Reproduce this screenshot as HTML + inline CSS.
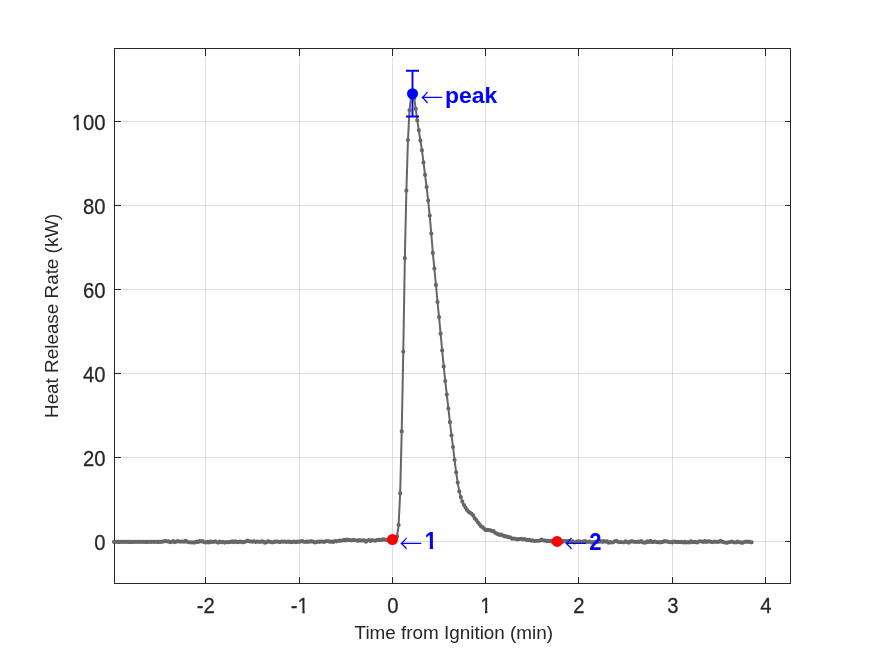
<!DOCTYPE html><html><head><meta charset="utf-8"><title>Heat Release Rate</title><style>html,body{margin:0;padding:0;background:#fff}svg{display:block}</style></head><body><svg width="875" height="656" viewBox="0 0 875 656">
<defs><clipPath id="c1"><rect x="291.09" y="590.52" width="6.45" height="30.72"/><rect x="298.90" y="590.52" width="5.93" height="19.73"/><rect x="302.39" y="610.24" width="2.28" height="4.46"/></clipPath><clipPath id="c2"><rect x="481.52" y="590.52" width="5.93" height="19.73"/><rect x="485.02" y="610.24" width="2.28" height="4.46"/></clipPath><clipPath id="c3"><rect x="73.16" y="107.92" width="5.93" height="19.73"/><rect x="76.65" y="127.64" width="2.28" height="4.46"/><rect x="83.37" y="107.92" width="11.97" height="30.72"/><rect x="94.63" y="107.92" width="11.97" height="30.72"/></clipPath><clipPath id="c4"><rect x="425.66" y="525.06" width="7.72" height="20.34"/><rect x="429.81" y="545.40" width="3.26" height="5.20"/></clipPath></defs>
<rect width="875" height="656" fill="#fff"/>
<path d="M205.5 57V576M299.5 57V576M392.5 57V576M485.5 57V576M578.5 57V576M672.5 57V576M765.5 57V576" stroke="#262626" stroke-opacity="0.15" stroke-width="1" fill="none" shape-rendering="crispEdges"/>
<path d="M122 541.5H784M122 457.5H784M122 373.5H784M122 289.5H784M122 205.5H784M122 121.5H784" stroke="#262626" stroke-opacity="0.15" stroke-width="1" fill="none" shape-rendering="crispEdges"/>
<path d="M114.5 48.5H790.5V583.5H114.5ZM205.5 583.5v-6.5M205.5 48.5v7.5M299.5 583.5v-6.5M299.5 48.5v7.5M392.5 583.5v-6.5M392.5 48.5v7.5M485.5 583.5v-6.5M485.5 48.5v7.5M578.5 583.5v-6.5M578.5 48.5v7.5M672.5 583.5v-6.5M672.5 48.5v7.5M765.5 583.5v-6.5M765.5 48.5v7.5M114.5 541.5h6.5M790.5 541.5h-5.5M114.5 457.5h6.5M790.5 457.5h-5.5M114.5 373.5h6.5M790.5 373.5h-5.5M114.5 289.5h6.5M790.5 289.5h-5.5M114.5 205.5h6.5M790.5 205.5h-5.5M114.5 121.5h6.5M790.5 121.5h-5.5" stroke="#262626" stroke-width="1" fill="none" shape-rendering="crispEdges"/>
<polyline points="114.06,541.90 115.61,541.84 117.16,541.88 118.72,541.88 120.27,541.89 121.83,541.87 123.38,541.89 124.94,541.87 126.50,541.85 128.05,541.91 129.60,541.92 131.16,541.94 132.71,541.89 134.27,541.87 135.82,541.86 137.38,541.84 138.93,541.90 140.49,541.85 142.04,541.84 143.60,541.87 145.16,541.92 146.71,541.88 148.26,541.84 149.82,541.85 151.38,541.89 152.93,541.86 154.48,541.85 156.04,541.86 157.59,541.89 159.15,541.92 160.70,541.83 162.26,541.53 163.81,541.42 165.37,540.82 166.92,541.36 168.48,541.45 170.03,542.26 171.59,541.78 173.14,541.22 174.70,542.04 176.25,541.67 177.81,541.12 179.36,541.52 180.92,541.56 182.47,541.48 184.03,541.74 185.58,540.93 187.14,541.69 188.69,542.27 190.25,542.27 191.80,542.36 193.36,542.39 194.91,542.44 196.47,541.48 198.02,542.06 199.58,541.10 201.13,541.45 202.69,541.08 204.24,542.23 205.80,542.40 207.35,541.87 208.91,542.51 210.46,541.63 212.02,541.87 213.57,541.85 215.13,541.42 216.68,542.03 218.24,542.58 219.79,541.52 221.35,542.14 222.90,541.86 224.46,542.54 226.01,542.10 227.57,542.13 229.12,542.11 230.68,541.89 232.23,541.31 233.79,542.26 235.34,541.32 236.90,541.88 238.45,542.03 240.01,541.50 241.56,541.88 243.12,542.28 244.67,541.80 246.23,541.33 247.78,540.56 249.34,541.28 250.89,541.50 252.45,541.53 254.00,541.40 255.56,541.89 257.12,541.57 258.67,541.75 260.23,542.02 261.78,541.46 263.33,541.71 264.89,542.67 266.44,542.16 268.00,541.29 269.55,541.72 271.11,542.04 272.66,542.29 274.22,541.86 275.77,541.53 277.33,541.48 278.88,542.01 280.44,541.89 282.00,541.56 283.55,541.65 285.10,541.61 286.66,542.00 288.21,541.52 289.77,541.95 291.32,542.13 292.88,541.94 294.44,541.48 295.99,542.23 297.54,541.54 299.10,541.86 300.65,541.38 302.21,541.01 303.76,541.77 305.32,541.85 306.88,541.72 308.43,541.81 309.99,541.45 311.54,541.40 313.09,541.70 314.65,542.51 316.20,542.10 317.76,541.56 319.31,541.90 320.87,541.52 322.42,541.54 323.98,542.02 325.53,541.46 327.09,540.98 328.64,541.28 330.20,541.71 331.75,541.71 333.31,541.88 334.87,541.00 336.42,541.29 337.97,541.01 339.53,540.60 341.08,540.77 342.64,540.46 344.19,539.88 345.75,540.43 347.30,539.56 348.86,540.05 350.41,540.15 351.97,540.33 353.52,539.97 355.08,540.26 356.63,540.35 358.19,540.79 359.75,540.21 361.30,540.54 362.85,540.46 364.41,540.25 365.96,541.69 367.52,540.62 369.07,540.00 370.63,540.95 372.19,540.06 373.74,540.50 375.29,540.64 376.85,540.00 378.40,539.97 379.96,539.92 381.51,539.99 383.07,539.38 384.62,539.49 386.18,539.95 387.73,540.35 389.29,540.09 390.84,540.30 392.40,539.40 393.95,539.20 395.51,538.60 397.06,536.60 398.62,525.00 400.17,493.40 401.73,431.40 403.28,351.70 404.84,258.20 406.39,190.50 407.95,140.10 409.50,110.30 411.06,97.40 412.61,93.90 414.17,98.20 415.72,108.90 417.28,120.30 418.83,130.30 420.39,140.30 421.94,150.30 423.50,162.40 425.05,174.90 426.61,187.10 428.16,200.60 429.72,215.70 431.27,233.50 432.83,252.90 434.38,268.60 435.94,284.90 437.50,302.00 439.05,317.10 440.60,333.70 442.16,350.40 443.71,366.40 445.27,381.10 446.82,394.60 448.38,408.50 449.93,422.20 451.49,435.40 453.04,447.10 454.60,460.00 456.15,472.30 457.71,482.60 459.26,491.40 460.82,497.10 462.38,501.70 463.93,505.00 465.48,507.60 467.04,510.00 468.59,511.79 470.15,512.89 471.70,513.87 473.26,515.70 474.81,518.44 476.37,520.10 477.92,522.26 479.48,524.31 481.03,526.32 482.59,527.19 484.14,528.66 485.70,530.08 487.25,529.97 488.81,530.03 490.36,530.34 491.92,530.84 493.47,531.12 495.03,532.63 496.58,533.61 498.14,534.17 499.69,534.96 501.25,534.61 502.80,535.50 504.36,536.22 505.91,536.36 507.47,536.88 509.02,537.17 510.58,537.61 512.13,538.70 513.69,538.58 515.25,538.73 516.80,539.32 518.36,539.08 519.91,539.02 521.46,538.82 523.02,539.38 524.57,539.07 526.13,539.85 527.68,540.05 529.24,539.97 530.79,540.59 532.35,540.39 533.90,540.99 535.46,540.82 537.01,540.85 538.57,540.75 540.12,540.58 541.68,539.58 543.24,540.33 544.79,540.61 546.35,540.95 547.90,540.96 549.45,541.24 551.01,540.86 552.56,541.97 554.12,542.25 555.67,541.34 557.23,541.40 558.78,541.59 560.34,542.05 561.89,542.25 563.45,541.07 565.00,541.20 566.56,541.07 568.12,541.04 569.67,540.92 571.22,541.68 572.78,541.27 574.34,542.28 575.89,542.09 577.44,541.30 579.00,541.26 580.55,541.51 582.11,542.26 583.66,541.42 585.22,541.15 586.77,541.73 588.33,541.93 589.88,541.63 591.44,542.47 593.00,542.02 594.55,542.01 596.11,541.54 597.66,541.83 599.21,541.74 600.77,540.99 602.32,541.86 603.88,541.19 605.43,541.77 606.99,541.39 608.54,542.67 610.10,542.15 611.65,542.30 613.21,542.26 614.76,541.33 616.32,540.93 617.88,541.73 619.43,542.26 620.98,542.01 622.54,542.27 624.10,542.26 625.65,541.36 627.20,542.05 628.76,542.70 630.31,541.69 631.87,541.07 633.42,541.73 634.98,541.74 636.53,542.04 638.09,541.58 639.64,541.84 641.20,541.07 642.75,542.25 644.31,542.65 645.87,542.45 647.42,541.38 648.97,541.89 650.53,540.76 652.09,541.93 653.64,541.88 655.19,541.55 656.75,542.04 658.30,542.04 659.86,542.32 661.41,542.03 662.97,541.96 664.52,541.12 666.08,541.38 667.63,541.72 669.19,542.04 670.74,542.01 672.30,542.51 673.86,541.64 675.41,541.83 676.96,542.03 678.52,541.88 680.08,542.12 681.63,541.80 683.18,542.49 684.74,541.92 686.29,542.39 687.85,542.04 689.40,542.50 690.96,541.47 692.51,542.10 694.07,541.81 695.62,542.08 697.18,542.41 698.73,541.50 700.29,541.35 701.85,541.52 703.40,541.96 704.95,541.22 706.51,541.88 708.06,541.41 709.62,541.45 711.17,541.79 712.73,542.09 714.28,541.72 715.84,541.75 717.39,541.93 718.95,541.76 720.50,540.87 722.06,541.70 723.62,542.04 725.17,542.50 726.72,542.87 728.28,542.33 729.84,542.00 731.39,541.60 732.94,542.01 734.50,542.35 736.05,542.49 737.61,541.69 739.16,542.08 740.72,542.40 742.27,542.78 743.83,542.14 745.38,541.76 746.94,541.68 748.49,541.80 750.05,541.75 751.61,542.34" fill="none" stroke="#666666" stroke-width="2" stroke-linejoin="round"/>
<path d="M114.06 541.90h0M115.61 541.84h0M117.16 541.88h0M118.72 541.88h0M120.27 541.89h0M121.83 541.87h0M123.38 541.89h0M124.94 541.87h0M126.50 541.85h0M128.05 541.91h0M129.60 541.92h0M131.16 541.94h0M132.71 541.89h0M134.27 541.87h0M135.82 541.86h0M137.38 541.84h0M138.93 541.90h0M140.49 541.85h0M142.04 541.84h0M143.60 541.87h0M145.16 541.92h0M146.71 541.88h0M148.26 541.84h0M149.82 541.85h0M151.38 541.89h0M152.93 541.86h0M154.48 541.85h0M156.04 541.86h0M157.59 541.89h0M159.15 541.92h0M160.70 541.83h0M162.26 541.53h0M163.81 541.42h0M165.37 540.82h0M166.92 541.36h0M168.48 541.45h0M170.03 542.26h0M171.59 541.78h0M173.14 541.22h0M174.70 542.04h0M176.25 541.67h0M177.81 541.12h0M179.36 541.52h0M180.92 541.56h0M182.47 541.48h0M184.03 541.74h0M185.58 540.93h0M187.14 541.69h0M188.69 542.27h0M190.25 542.27h0M191.80 542.36h0M193.36 542.39h0M194.91 542.44h0M196.47 541.48h0M198.02 542.06h0M199.58 541.10h0M201.13 541.45h0M202.69 541.08h0M204.24 542.23h0M205.80 542.40h0M207.35 541.87h0M208.91 542.51h0M210.46 541.63h0M212.02 541.87h0M213.57 541.85h0M215.13 541.42h0M216.68 542.03h0M218.24 542.58h0M219.79 541.52h0M221.35 542.14h0M222.90 541.86h0M224.46 542.54h0M226.01 542.10h0M227.57 542.13h0M229.12 542.11h0M230.68 541.89h0M232.23 541.31h0M233.79 542.26h0M235.34 541.32h0M236.90 541.88h0M238.45 542.03h0M240.01 541.50h0M241.56 541.88h0M243.12 542.28h0M244.67 541.80h0M246.23 541.33h0M247.78 540.56h0M249.34 541.28h0M250.89 541.50h0M252.45 541.53h0M254.00 541.40h0M255.56 541.89h0M257.12 541.57h0M258.67 541.75h0M260.23 542.02h0M261.78 541.46h0M263.33 541.71h0M264.89 542.67h0M266.44 542.16h0M268.00 541.29h0M269.55 541.72h0M271.11 542.04h0M272.66 542.29h0M274.22 541.86h0M275.77 541.53h0M277.33 541.48h0M278.88 542.01h0M280.44 541.89h0M282.00 541.56h0M283.55 541.65h0M285.10 541.61h0M286.66 542.00h0M288.21 541.52h0M289.77 541.95h0M291.32 542.13h0M292.88 541.94h0M294.44 541.48h0M295.99 542.23h0M297.54 541.54h0M299.10 541.86h0M300.65 541.38h0M302.21 541.01h0M303.76 541.77h0M305.32 541.85h0M306.88 541.72h0M308.43 541.81h0M309.99 541.45h0M311.54 541.40h0M313.09 541.70h0M314.65 542.51h0M316.20 542.10h0M317.76 541.56h0M319.31 541.90h0M320.87 541.52h0M322.42 541.54h0M323.98 542.02h0M325.53 541.46h0M327.09 540.98h0M328.64 541.28h0M330.20 541.71h0M331.75 541.71h0M333.31 541.88h0M334.87 541.00h0M336.42 541.29h0M337.97 541.01h0M339.53 540.60h0M341.08 540.77h0M342.64 540.46h0M344.19 539.88h0M345.75 540.43h0M347.30 539.56h0M348.86 540.05h0M350.41 540.15h0M351.97 540.33h0M353.52 539.97h0M355.08 540.26h0M356.63 540.35h0M358.19 540.79h0M359.75 540.21h0M361.30 540.54h0M362.85 540.46h0M364.41 540.25h0M365.96 541.69h0M367.52 540.62h0M369.07 540.00h0M370.63 540.95h0M372.19 540.06h0M373.74 540.50h0M375.29 540.64h0M376.85 540.00h0M378.40 539.97h0M379.96 539.92h0M381.51 539.99h0M383.07 539.38h0M384.62 539.49h0M386.18 539.95h0M387.73 540.35h0M389.29 540.09h0M390.84 540.30h0M392.40 539.40h0M393.95 539.20h0M395.51 538.60h0M397.06 536.60h0M398.62 525.00h0M400.17 493.40h0M401.73 431.40h0M403.28 351.70h0M404.84 258.20h0M406.39 190.50h0M407.95 140.10h0M409.50 110.30h0M411.06 97.40h0M412.61 93.90h0M414.17 98.20h0M415.72 108.90h0M417.28 120.30h0M418.83 130.30h0M420.39 140.30h0M421.94 150.30h0M423.50 162.40h0M425.05 174.90h0M426.61 187.10h0M428.16 200.60h0M429.72 215.70h0M431.27 233.50h0M432.83 252.90h0M434.38 268.60h0M435.94 284.90h0M437.50 302.00h0M439.05 317.10h0M440.60 333.70h0M442.16 350.40h0M443.71 366.40h0M445.27 381.10h0M446.82 394.60h0M448.38 408.50h0M449.93 422.20h0M451.49 435.40h0M453.04 447.10h0M454.60 460.00h0M456.15 472.30h0M457.71 482.60h0M459.26 491.40h0M460.82 497.10h0M462.38 501.70h0M463.93 505.00h0M465.48 507.60h0M467.04 510.00h0M468.59 511.79h0M470.15 512.89h0M471.70 513.87h0M473.26 515.70h0M474.81 518.44h0M476.37 520.10h0M477.92 522.26h0M479.48 524.31h0M481.03 526.32h0M482.59 527.19h0M484.14 528.66h0M485.70 530.08h0M487.25 529.97h0M488.81 530.03h0M490.36 530.34h0M491.92 530.84h0M493.47 531.12h0M495.03 532.63h0M496.58 533.61h0M498.14 534.17h0M499.69 534.96h0M501.25 534.61h0M502.80 535.50h0M504.36 536.22h0M505.91 536.36h0M507.47 536.88h0M509.02 537.17h0M510.58 537.61h0M512.13 538.70h0M513.69 538.58h0M515.25 538.73h0M516.80 539.32h0M518.36 539.08h0M519.91 539.02h0M521.46 538.82h0M523.02 539.38h0M524.57 539.07h0M526.13 539.85h0M527.68 540.05h0M529.24 539.97h0M530.79 540.59h0M532.35 540.39h0M533.90 540.99h0M535.46 540.82h0M537.01 540.85h0M538.57 540.75h0M540.12 540.58h0M541.68 539.58h0M543.24 540.33h0M544.79 540.61h0M546.35 540.95h0M547.90 540.96h0M549.45 541.24h0M551.01 540.86h0M552.56 541.97h0M554.12 542.25h0M555.67 541.34h0M557.23 541.40h0M558.78 541.59h0M560.34 542.05h0M561.89 542.25h0M563.45 541.07h0M565.00 541.20h0M566.56 541.07h0M568.12 541.04h0M569.67 540.92h0M571.22 541.68h0M572.78 541.27h0M574.34 542.28h0M575.89 542.09h0M577.44 541.30h0M579.00 541.26h0M580.55 541.51h0M582.11 542.26h0M583.66 541.42h0M585.22 541.15h0M586.77 541.73h0M588.33 541.93h0M589.88 541.63h0M591.44 542.47h0M593.00 542.02h0M594.55 542.01h0M596.11 541.54h0M597.66 541.83h0M599.21 541.74h0M600.77 540.99h0M602.32 541.86h0M603.88 541.19h0M605.43 541.77h0M606.99 541.39h0M608.54 542.67h0M610.10 542.15h0M611.65 542.30h0M613.21 542.26h0M614.76 541.33h0M616.32 540.93h0M617.88 541.73h0M619.43 542.26h0M620.98 542.01h0M622.54 542.27h0M624.10 542.26h0M625.65 541.36h0M627.20 542.05h0M628.76 542.70h0M630.31 541.69h0M631.87 541.07h0M633.42 541.73h0M634.98 541.74h0M636.53 542.04h0M638.09 541.58h0M639.64 541.84h0M641.20 541.07h0M642.75 542.25h0M644.31 542.65h0M645.87 542.45h0M647.42 541.38h0M648.97 541.89h0M650.53 540.76h0M652.09 541.93h0M653.64 541.88h0M655.19 541.55h0M656.75 542.04h0M658.30 542.04h0M659.86 542.32h0M661.41 542.03h0M662.97 541.96h0M664.52 541.12h0M666.08 541.38h0M667.63 541.72h0M669.19 542.04h0M670.74 542.01h0M672.30 542.51h0M673.86 541.64h0M675.41 541.83h0M676.96 542.03h0M678.52 541.88h0M680.08 542.12h0M681.63 541.80h0M683.18 542.49h0M684.74 541.92h0M686.29 542.39h0M687.85 542.04h0M689.40 542.50h0M690.96 541.47h0M692.51 542.10h0M694.07 541.81h0M695.62 542.08h0M697.18 542.41h0M698.73 541.50h0M700.29 541.35h0M701.85 541.52h0M703.40 541.96h0M704.95 541.22h0M706.51 541.88h0M708.06 541.41h0M709.62 541.45h0M711.17 541.79h0M712.73 542.09h0M714.28 541.72h0M715.84 541.75h0M717.39 541.93h0M718.95 541.76h0M720.50 540.87h0M722.06 541.70h0M723.62 542.04h0M725.17 542.50h0M726.72 542.87h0M728.28 542.33h0M729.84 542.00h0M731.39 541.60h0M732.94 542.01h0M734.50 542.35h0M736.05 542.49h0M737.61 541.69h0M739.16 542.08h0M740.72 542.40h0M742.27 542.78h0M743.83 542.14h0M745.38 541.76h0M746.94 541.68h0M748.49 541.80h0M750.05 541.75h0M751.61 542.34h0" fill="none" stroke="#666666" stroke-width="4.2" stroke-linecap="round"/>
<g font-family="Liberation Sans, Arial, sans-serif">
<text transform="translate(196.79,612.70) scale(0.95,1.04)" stroke="#262626" stroke-width="0.25" font-size="21.33" fill="#262626">-2</text>
<g clip-path="url(#c1)"><text transform="translate(290.79,612.70) scale(0.95,1.04)" stroke="#262626" stroke-width="0.25" font-size="21.33" fill="#262626">-1</text></g>
<text transform="translate(387.17,612.70) scale(0.95,1.04)" stroke="#262626" stroke-width="0.25" font-size="21.33" fill="#262626">0</text>
<g clip-path="url(#c2)"><text transform="translate(480.17,612.70) scale(0.95,1.04)" stroke="#262626" stroke-width="0.25" font-size="21.33" fill="#262626">1</text></g>
<text transform="translate(573.17,612.70) scale(0.95,1.04)" stroke="#262626" stroke-width="0.25" font-size="21.33" fill="#262626">2</text>
<text transform="translate(667.17,612.70) scale(0.95,1.04)" stroke="#262626" stroke-width="0.25" font-size="21.33" fill="#262626">3</text>
<text transform="translate(760.17,612.70) scale(0.95,1.04)" stroke="#262626" stroke-width="0.25" font-size="21.33" fill="#262626">4</text>
<text transform="translate(94.33,550.10) scale(0.95,1.04)" stroke="#262626" stroke-width="0.25" font-size="21.33" fill="#262626">0</text>
<text transform="translate(83.07,466.10) scale(0.95,1.04)" stroke="#262626" stroke-width="0.25" font-size="21.33" fill="#262626">20</text>
<text transform="translate(83.07,382.10) scale(0.95,1.04)" stroke="#262626" stroke-width="0.25" font-size="21.33" fill="#262626">40</text>
<text transform="translate(83.07,298.10) scale(0.95,1.04)" stroke="#262626" stroke-width="0.25" font-size="21.33" fill="#262626">60</text>
<text transform="translate(83.07,214.10) scale(0.95,1.04)" stroke="#262626" stroke-width="0.25" font-size="21.33" fill="#262626">80</text>
<g clip-path="url(#c3)"><text transform="translate(71.80,130.10) scale(0.95,1.04)" stroke="#262626" stroke-width="0.25" font-size="21.33" fill="#262626">100</text></g>
</g>
<g font-family="Liberation Sans, Arial, sans-serif" font-size="18.87" fill="#262626">
<text x="453.8" y="638.9" text-anchor="middle">Time from Ignition (min)</text>
<text transform="translate(58.2,315.8) rotate(-90)" text-anchor="middle">Heat Release Rate (kW)</text>
</g>
<path d="M412.5 70.7V116.5M406 70.7h13M406 116.5h13" stroke="#0000ff" stroke-width="1.9" fill="none"/>
<circle cx="412.5" cy="93.7" r="5.5" fill="#0000ff"/>
<circle cx="392.5" cy="539.5" r="5.5" fill="#ff0000"/>
<circle cx="557.1" cy="541.4" r="5.5" fill="#ff0000"/>
<text transform="translate(420.6,107.30) scale(1,1.1)" font-family="Noto Sans CJK JP, DejaVu Sans, sans-serif" font-weight="300" font-size="22.6" fill="#0000ff">←</text>
<text x="445.1" y="103.2" font-family="Liberation Sans, Arial, sans-serif" font-weight="bold" font-size="22" fill="#0000ff" textLength="52.3" lengthAdjust="spacingAndGlyphs">peak</text>
<text transform="translate(399.6,552.80) scale(1,1.1)" font-family="Noto Sans CJK JP, DejaVu Sans, sans-serif" font-weight="300" font-size="22.6" fill="#0000ff">←</text>
<g font-family="Liberation Sans, Arial, sans-serif"><g clip-path="url(#c4)"><text transform="translate(424.80,548.60) scale(1.0,1.07)" font-size="22" font-weight="bold" fill="#0000ff">1</text></g></g>
<text transform="translate(564.6,553.20) scale(1,1.1)" font-family="Noto Sans CJK JP, DejaVu Sans, sans-serif" font-weight="300" font-size="22.6" fill="#0000ff">←</text>
<text transform="translate(589.3,549.6) scale(1,1.05)" font-family="Liberation Sans, Arial, sans-serif" font-weight="bold" font-size="22" fill="#0000ff">2</text>
</svg></body></html>
